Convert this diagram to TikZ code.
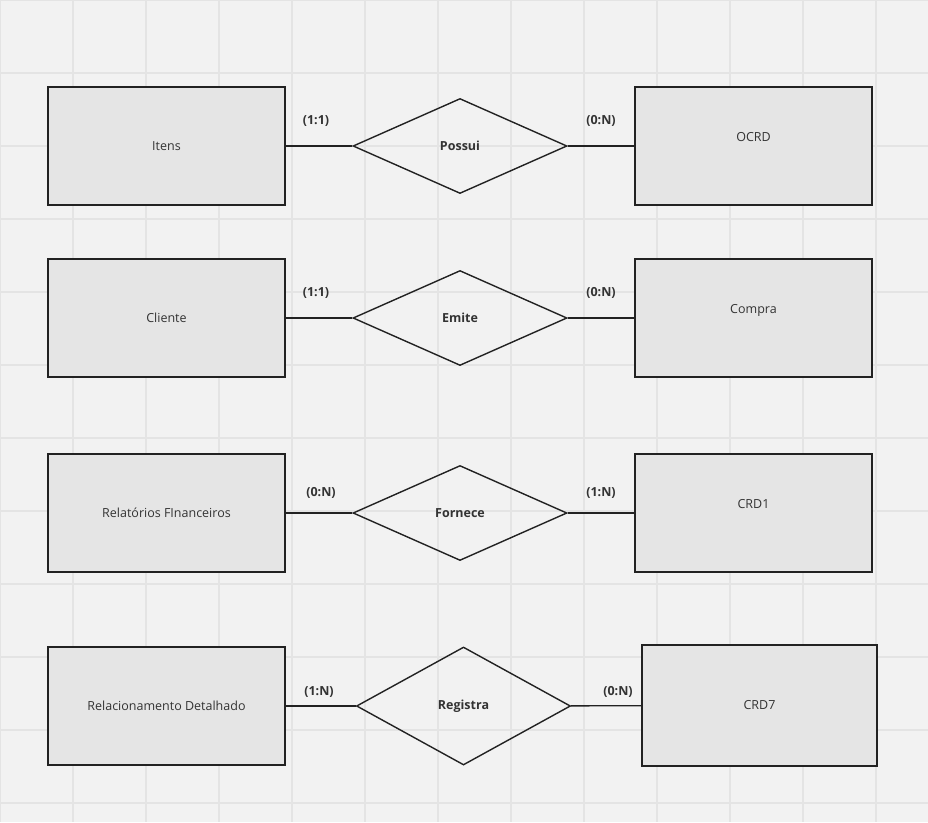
\documentclass[tikz,border=0pt]{standalone}
\usepackage{fontspec}
\setmainfont{Open Sans}
\usetikzlibrary{shapes.geometric}
\definecolor{paper}{HTML}{F2F2F2}
\definecolor{gridline}{HTML}{E4E4E4}
\definecolor{boxfill}{HTML}{E5E5E5}
\definecolor{ink}{HTML}{222222}
\definecolor{txt}{HTML}{333333}

\begin{document}
\begin{tikzpicture}[x=1pt, y=-1pt,
	entity/.style={draw=ink, line width=1.8pt, fill=boxfill, minimum width=237pt, minimum height=118pt, inner sep=0pt, text=txt, font=\fontsize{12.5}{14}\selectfont},
	relation/.style={draw=ink, line width=1.4pt, diamond, aspect=2.25, minimum width=214pt, minimum height=95pt, inner sep=0pt, text=txt, font=\fontsize{12.5}{14}\selectfont\bfseries},
	card/.style={text=txt, inner sep=1pt, font=\fontsize{12.5}{14}\selectfont\bfseries},
	link/.style={draw=ink, line width=1.4pt}]
	\useasboundingbox (0,0) rectangle (928,822);
	\fill[paper] (0,0) rectangle (928,822);
	\foreach \i in {0,...,12} {
		\draw[gridline, line width=2pt] (\i*73,0) -- (\i*73,822);
	}
	\foreach \j in {0,...,11} {
		\draw[gridline, line width=2pt] (0,\j*73) -- (928,\j*73);
	}

	% Possui
	\node[entity] (itens) at (166.5,146) {Itens};
	\node[relation] (possui) at (460,146) {Possui};
	\node[entity, label={[yshift=9pt, text=txt, font=\fontsize{12.5}{14}\selectfont]center:OCRD}] (ocrd) at (753.5,146) {};
	\draw[link] (itens) -- (possui);
	\draw[link] (possui) -- (ocrd);
	\node[card] (pi) at (316,121) {(1:1)};
	\node[card] (po) at (601,121) {(0:N)};

	% Emite
	\node[entity] (cliente) at (166.5,318) {Cliente};
	\node[relation] (emite) at (460,318) {Emite};
	\node[entity, label={[yshift=8pt, text=txt, font=\fontsize{12.5}{14}\selectfont]center:Compra}] (compra) at (753.5,318) {};
	\draw[link] (cliente) -- (emite);
	\draw[link] (emite) -- (compra);
	\node[card] (ec) at (316,293) {(1:1)};
	\node[card] (eo) at (601,293) {(0:N)};

	% Fornece
	\node[entity] (relat) at (166.5,513) {Relatórios FInanceiros};
	\node[relation] (fornece) at (460,513) {Fornece};
	\node[entity, label={[yshift=9pt, text=txt, font=\fontsize{12.5}{14}\selectfont]center:CRD1}] (crd1) at (753.5,513) {};
	\draw[link] (relat) -- (fornece);
	\draw[link] (fornece) -- (crd1);
	\node[card] (fr) at (321,493) {(0:N)};
	\node[card] (fc) at (601,493) {(1:N)};

	% Registra
	\node[entity] (detalhe) at (166.5,706) {Relacionamento Detalhado};
	\node[relation, minimum height=118pt] (registra) at (463.5,706) {Registra};
	\node[entity, minimum width=235pt, minimum height=121pt] (crd7) at (759.5,705.5) {CRD7};
	\draw[link] (detalhe) -- (registra);
	\draw[link] (registra) -- (crd7);
	\node[card] (rd) at (319,692) {(1:N)};
	\node[card] (rc) at (618,692) {(0:N)};
\end{tikzpicture}
\end{document}
